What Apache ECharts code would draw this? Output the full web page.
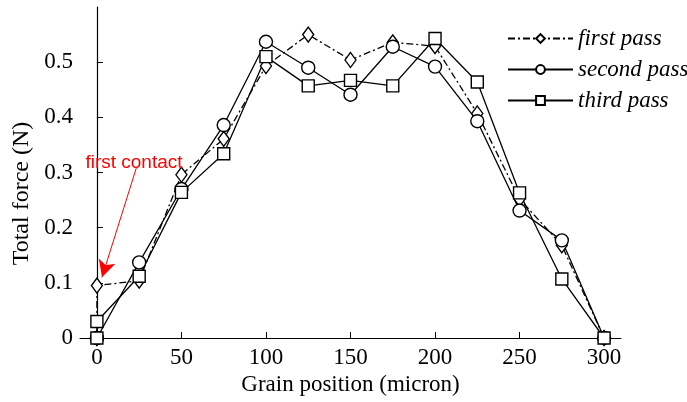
<!DOCTYPE html>
<html><head><meta charset="utf-8">
<script src="https://cdn.jsdelivr.net/npm/echarts@6/dist/echarts.min.js"></script>
<style>html,body{margin:0;padding:0;background:#fff}#c{width:687px;height:402px}</style>
</head><body><div id="c"></div>
<script>
const positions = [0, 0, 25, 50, 75, 100, 125, 150, 175, 200, 225, 250, 275, 300];
const firstPass  = [0, 0.095, 0.104, 0.296, 0.361, 0.493, 0.550, 0.504, 0.536, 0.529, 0.407, 0.252, 0.168, 0];
const secondPass = [0, 0, 0.137, 0.270, 0.386, 0.537, 0.490, 0.441, 0.528, 0.492, 0.393, 0.231, 0.177, 0];
const thirdPass  = [0, 0.030, 0.112, 0.264, 0.334, 0.510, 0.457, 0.467, 0.457, 0.543, 0.464, 0.263, 0.107, 0];
const xTicks = [0, 50, 100, 150, 200, 250, 300];
const yTicks = [0, 0.1, 0.2, 0.3, 0.4, 0.5];
const seriesNames = ['first pass', 'second pass', 'third pass'];

const serif = '"Liberation Serif", "DejaVu Serif", serif';
const pairs = v => positions.map((x, i) => [x, v[i]]);
const mk = (name, vals, symbol, size, lineType) => ({
  name, type: 'line', data: pairs(vals), symbol, symbolSize: size,
  showSymbol: true,
  lineStyle: { color: '#000', width: 1.3, type: lineType },
  itemStyle: { color: '#fff', borderColor: '#000', borderWidth: 1.4 },
  emphasis: { disabled: true }, animation: false
});
const s1 = mk(seriesNames[0], firstPass, 'diamond', [11, 15], [7, 3, 2, 3]);
s1.z = 3;
s1.markLine = {
  silent: true, symbol: ['none', 'arrow'], symbolSize: [13, 17],
  lineStyle: { color: '#ff0000', width: 1, type: 'solid' },
  label: { show: false },
  data: [[{ coord: [23.5, 0.31] }, { coord: [3, 0.11] }]]
};
s1.markPoint = {
  silent: true, symbol: 'circle', symbolSize: 0,
  label: { show: true, position: 'right', distance: 0, formatter: 'first contact',
    color: '#ff0000', fontFamily: '"Liberation Sans", Arial, sans-serif', fontSize: 19 },
  data: [{ coord: [-6.8, 0.317] }]
};
const s2 = mk(seriesNames[1], secondPass, 'circle', 13, 'solid');
const s3 = mk(seriesNames[2], thirdPass, 'rect', 12, 'solid');

const chart = echarts.init(document.getElementById('c'), null, { renderer: 'canvas' });
chart.setOption({
  animation: false,
  backgroundColor: '#fff',
  grid: { left: 80, right: 66, top: 7, bottom: 64, containLabel: false },
  legend: {
    data: seriesNames, orient: 'vertical', left: 502, top: 22,
    itemWidth: 65, itemHeight: 11, itemGap: 8,
    textStyle: { fontFamily: serif, fontStyle: 'italic', fontSize: 23, color: '#000' }
  },
  xAxis: {
    type: 'value', min: -10, max: 310,
    name: 'Grain position (micron)', nameLocation: 'middle', nameGap: 34,
    nameTextStyle: { fontFamily: serif, fontSize: 23, color: '#000' },
    axisLine: { lineStyle: { color: '#000', width: 1.2 } },
    axisTick: { inside: true, length: 6, customValues: xTicks, lineStyle: { color: '#000' } },
    axisLabel: { customValues: xTicks, fontFamily: serif, fontSize: 23, color: '#000', margin: 8 },
    splitLine: { show: false }
  },
  yAxis: {
    type: 'value', min: 0, max: 0.6,
    name: 'Total force (N)', nameLocation: 'middle', nameGap: 46, nameRotate: 90,
    nameTextStyle: { fontFamily: serif, fontSize: 24, color: '#000', padding: [0, 42, 0, 0] },
    axisLine: { show: true, lineStyle: { color: '#000', width: 1.2 } },
    axisTick: { show: true, inside: true, length: 6, customValues: yTicks, lineStyle: { color: '#000' } },
    axisLabel: { customValues: yTicks, fontFamily: serif, fontSize: 23, color: '#000', margin: 7,
      formatter: v => (v === 0 ? '0' : String(Math.round(v * 10) / 10)) },
    splitLine: { show: false }
  },
  series: [s1, s2, s3]
});
</script></body></html>
